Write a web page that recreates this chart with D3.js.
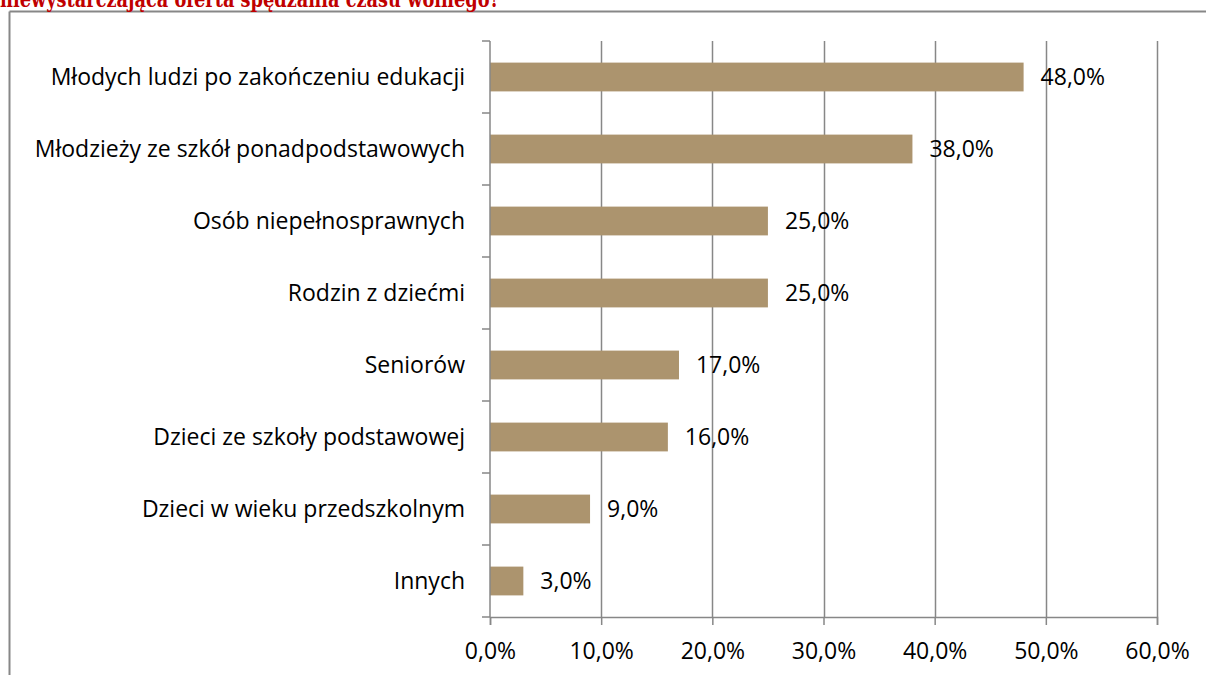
<!DOCTYPE html>
<html>
<head>
<meta charset="utf-8">
<script src="https://cdn.jsdelivr.net/npm/d3@7"></script>
<style>
body{margin:0;background:#fff;}
svg{display:block;}
</style>
</head>
<body>
<svg id="chart" width="1206" height="675"></svg>
<script>
var categories = ["Młodych ludzi po zakończeniu edukacji","Młodzieży ze szkół ponadpodstawowych","Osób niepełnosprawnych","Rodzin z dziećmi","Seniorów","Dzieci ze szkoły podstawowej","Dzieci w wieku przedszkolnym","Innych"];
var values = [48,38,25,25,17,16,9,3];
var xTicks = [0,10,20,30,40,50,60];
var title = "niewystarczająca oferta spędzania czasu wolnego?";

var svg = d3.select("#chart");
var gridCol = "#878787";
var fmt = function(v){ return v.toFixed(1).replace(".", ",") + "%"; };

// frame of the text box the chart sits in
svg.append("line").attr("x1",9.5).attr("y1",11.5).attr("x2",1206).attr("y2",11.5).attr("stroke",gridCol).attr("stroke-width",2);
svg.append("line").attr("x1",9.5).attr("y1",11.5).attr("x2",9.5).attr("y2",675).attr("stroke",gridCol).attr("stroke-width",2);

svg.append("text")
  .attr("x",0).attr("y",7)
  .attr("font-family","'DejaVu Serif', 'Liberation Serif', serif")
  .attr("font-weight","bold")
  .attr("font-size",22)
  .attr("fill","#c00000")
  .attr("textLength",500)
  .attr("lengthAdjust","spacingAndGlyphs")
  .text(title);

var pLeft = 490, pRight = 1157, pTop = 41, pBottom = 617;
var x = d3.scaleLinear().domain([0,60]).range([pLeft,pRight]);
var y = d3.scaleBand().domain(categories).range([pTop,pBottom]).paddingInner(0.6).paddingOuter(0.3);

var font = "'Open Sans', 'Noto Sans', sans-serif";
var fs = 23;
var g = svg.append("g");

// vertical gridlines
g.selectAll(".grid").data(xTicks.slice(1)).enter().append("line")
  .attr("x1",function(d){return Math.round(x(d))+0.5;})
  .attr("x2",function(d){return Math.round(x(d))+0.5;})
  .attr("y1",pTop).attr("y2",pBottom)
  .attr("stroke",gridCol).attr("stroke-width",1.5);

// bars
g.selectAll(".bar").data(values).enter().append("rect")
  .attr("x",pLeft)
  .attr("y",function(d,i){return y(categories[i]);})
  .attr("width",function(d){return x(d)-pLeft;})
  .attr("height",y.bandwidth())
  .attr("fill","#ac946e");

// bottom axis
var xAxis = d3.axisBottom(x).tickValues(xTicks).tickSize(8).tickPadding(18).tickFormat(fmt);
var ax = g.append("g").attr("transform","translate(0,"+pBottom+")").call(xAxis);
ax.select(".domain").attr("stroke",gridCol).attr("stroke-width",1.5);
ax.selectAll(".tick line").attr("stroke",gridCol).attr("stroke-width",1.5);
ax.selectAll(".tick text").attr("font-family",font).attr("font-size",fs).attr("fill","#000");

// left axis with ticks between categories
var yLine = g.append("g");
yLine.append("line").attr("x1",pLeft).attr("x2",pLeft).attr("y1",pTop).attr("y2",pBottom).attr("stroke",gridCol).attr("stroke-width",1.5);
var step = (pBottom-pTop)/categories.length;
yLine.selectAll(".yt").data(d3.range(categories.length+1)).enter().append("line")
  .attr("x1",pLeft-8).attr("x2",pLeft)
  .attr("y1",function(d){return pTop+d*step;})
  .attr("y2",function(d){return pTop+d*step;})
  .attr("stroke",gridCol).attr("stroke-width",1.5);

g.selectAll(".cat").data(categories).enter().append("text")
  .attr("x",pLeft-25)
  .attr("y",function(d){return y(d)+y.bandwidth()/2;})
  .attr("dy","0.35em")
  .attr("text-anchor","end")
  .attr("font-family",font).attr("font-size",fs)
  .text(function(d){return d;});

// value labels
g.selectAll(".val").data(values).enter().append("text")
  .attr("x",function(d){return x(d)+17;})
  .attr("y",function(d,i){return y(categories[i])+y.bandwidth()/2;})
  .attr("dy","0.35em")
  .attr("font-family",font).attr("font-size",fs)
  .text(fmt);
</script>
</body>
</html>
